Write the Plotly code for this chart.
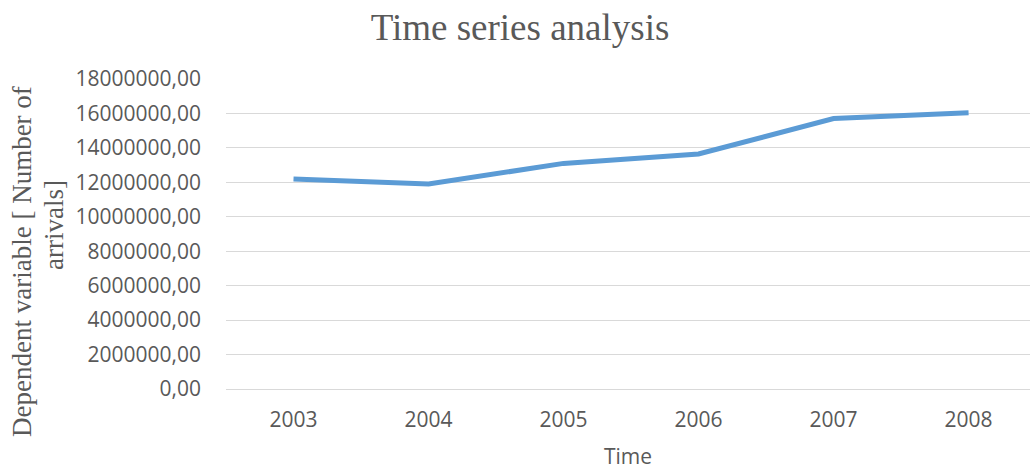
import plotly.graph_objects as go

# Yearly arrivals
years = ["2003", "2004", "2005", "2006", "2007", "2008"]
arrivals = [12200000, 11900000, 13100000, 13650000, 15700000, 16040000]

# Y axis ticks, written with a decimal comma
y_tick_values = [0, 2000000, 4000000, 6000000, 8000000, 10000000,
                 12000000, 14000000, 16000000, 18000000]
y_tick_labels = ["0,00", "2000000,00", "4000000,00", "6000000,00", "8000000,00",
                 "10000000,00", "12000000,00", "14000000,00", "16000000,00",
                 "18000000,00"]

W, H = 1030, 470
L, R, T, B = 226, 0, 79, 81
TEXT = "#595959"
GRID = "#D9D9D9"
SANS = "Open Sans, Liberation Sans, sans-serif"
SERIF = "Liberation Serif, Times New Roman, serif"

fig = go.Figure(
    go.Scatter(
        x=years,
        y=arrivals,
        mode="lines",
        line=dict(color="#5B9BD5", width=5),
        hoverinfo="x+y",
    )
)

fig.update_layout(
    width=W,
    height=H,
    paper_bgcolor="white",
    plot_bgcolor="white",
    showlegend=False,
    margin=dict(l=L, r=R, t=T, b=B),
    title=dict(
        text="Time series analysis",
        font=dict(family=SERIF, size=37, color=TEXT),
        x=520 / W,
        xanchor="center",
        xref="container",
        yref="container",
        y=1 - 27 / H,
        yanchor="middle",
    ),
    xaxis=dict(
        type="category",
        range=[-0.5, 5.455],
        showgrid=False,
        zeroline=False,
        showline=False,
        ticks="",
        tickfont=dict(family=SANS, size=21, color=TEXT),
        ticklabelstandoff=16,
        title=dict(text="Time", font=dict(family=SANS, size=21, color=TEXT),
                   standoff=18),
    ),
    yaxis=dict(
        range=[0, 18000000],
        tickmode="array",
        tickvals=y_tick_values,
        ticktext=y_tick_labels,
        showgrid=True,
        gridcolor=GRID,
        gridwidth=1,
        zeroline=True,
        zerolinecolor=GRID,
        zerolinewidth=1,
        showline=False,
        ticks="",
        tickfont=dict(family=SANS, size=21, color=TEXT),
        ticklabelstandoff=24,
    ),
)

plot_w = W - L - R
plot_h = H - T - B

# Two-line rotated y axis title
fig.add_annotation(
    text="Dependent variable [ Number of",
    textangle=-90,
    xref="paper", yref="paper",
    x=(22 - L) / plot_w,
    y=1 - (262 - T) / plot_h,
    xanchor="center", yanchor="middle",
    showarrow=False,
    font=dict(family=SERIF, size=27, color=TEXT),
)
fig.add_annotation(
    text="arrivals]",
    textangle=-90,
    xref="paper", yref="paper",
    x=(54 - L) / plot_w,
    y=1 - (225 - T) / plot_h,
    xanchor="center", yanchor="middle",
    showarrow=False,
    font=dict(family=SERIF, size=27, color=TEXT),
)

fig.write_html("out.html")
